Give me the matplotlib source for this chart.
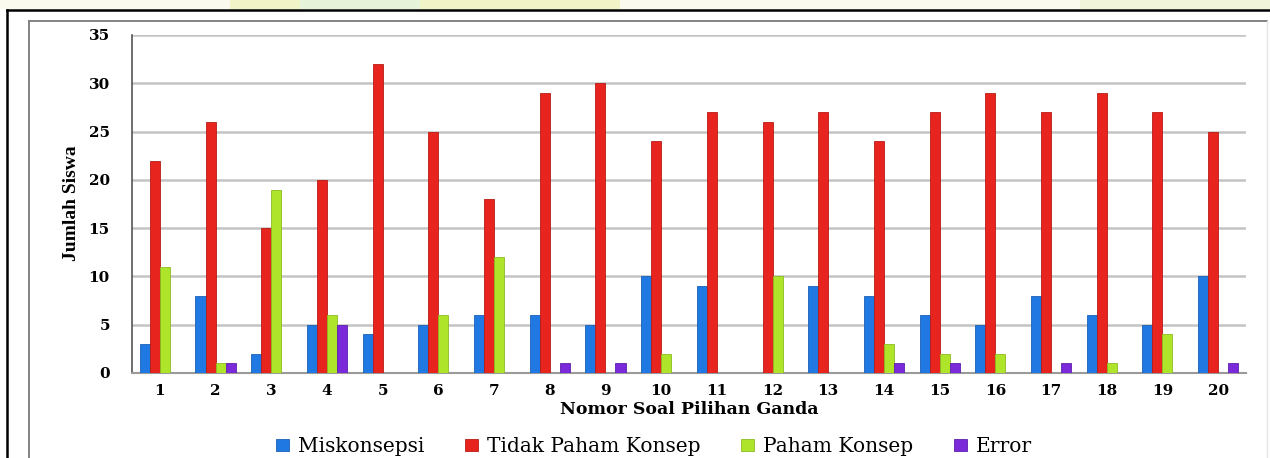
import matplotlib
matplotlib.use("Agg")
import matplotlib.pyplot as plt
from matplotlib.patches import Rectangle
from matplotlib.lines import Line2D
import numpy as np

categories = [str(i) for i in range(1, 21)]
miskonsepsi = [3, 8, 2, 5, 4, 5, 6, 6, 5, 10, 9, 0, 9, 8, 6, 5, 8, 6, 5, 10]
tidak_paham = [22, 26, 15, 20, 32, 25, 18, 29, 30, 24, 27, 26, 27, 24, 27, 29, 27, 29, 27, 25]
paham = [11, 1, 19, 6, 0, 6, 12, 0, 0, 2, 0, 10, 0, 3, 2, 2, 0, 1, 4, 0]
error = [0, 1, 0, 5, 0, 0, 0, 1, 1, 0, 0, 0, 0, 1, 1, 0, 1, 0, 0, 1]
series_names = ["Miskonsepsi", "Tidak Paham Konsep", "Paham Konsep", "Error"]
colors = ["#2079E3", "#E8241F", "#AEE52B", "#7A2AD9"]
edges = ["#1A5FB5", "#B81A16", "#8CBB20", "#5E1FAA"]
yticks = [0, 5, 10, 15, 20, 25, 30, 35]

W, H = 1270, 458
fig = plt.figure(figsize=(W / 100, H / 100), dpi=100)
fig.patch.set_facecolor("white")

# pale watermark strip at the very top
fig.add_artist(Rectangle((0, 1 - 9 / H), 1, 9 / H, transform=fig.transFigure,
                         facecolor="#FAFAEE", edgecolor="none", zorder=0))
for x0, x1, c in [(230, 620, "#F3F3C8"), (300, 420, "#E6F2DA"), (1080, 1270, "#F0F4D8")]:
    fig.add_artist(Rectangle((x0 / W, 1 - 9 / H), (x1 - x0) / W, 9 / H,
                             transform=fig.transFigure, facecolor=c,
                             edgecolor="none", zorder=0))

# outer black frame (top and left)
fig.add_artist(Line2D([7 / W, 1], [1 - 9.5 / H, 1 - 9.5 / H], color="black", lw=1.8,
                      transform=fig.transFigure))
fig.add_artist(Line2D([7 / W, 7 / W], [0, 1 - 9.5 / H], color="black", lw=1.8,
                      transform=fig.transFigure))
# inner gray frame
fig.add_artist(Line2D([29 / W, 1267 / W], [1 - 20.5 / H, 1 - 20.5 / H], color="#7A7A7A", lw=1.3,
                      transform=fig.transFigure))
fig.add_artist(Line2D([29 / W, 29 / W], [0, 1 - 20.5 / H], color="#7A7A7A", lw=1.3,
                      transform=fig.transFigure))
fig.add_artist(Line2D([1267 / W, 1267 / W], [0, 1 - 20.5 / H], color="#E4E4E4", lw=1.0,
                      transform=fig.transFigure))

left, right, top, bottom = 132, 1246, 35, 373
ax = fig.add_axes([left / W, 1 - bottom / H, (right - left) / W, (bottom - top) / H])

x = np.arange(1, 21)
bw = 0.18
series = [miskonsepsi, tidak_paham, paham, error]
handles = []
for i, (vals, name) in enumerate(zip(series, series_names)):
    offs = (i - 1.5) * bw
    b = ax.bar(x + offs, vals, width=bw, color=colors[i], edgecolor=edges[i],
               linewidth=0.6, label=name, zorder=3)
    handles.append(b)

ax.set_xlim(0.5, 20.5)
ax.set_ylim(0, 35)
ax.set_yticks(yticks)
ax.set_xticks(x)
ax.set_xticklabels(categories)
ax.yaxis.grid(True, color="#C4C4C4", linewidth=1.8, zorder=0)
ax.set_axisbelow(True)
for s in ["top", "right"]:
    ax.spines[s].set_visible(False)
ax.spines["left"].set_color("#555555")
ax.spines["left"].set_linewidth(1.2)
ax.spines["bottom"].set_color("#9A9A9A")
ax.spines["bottom"].set_linewidth(1.5)
ax.tick_params(axis="both", length=0)
ax.tick_params(axis="y", pad=16)
ax.tick_params(axis="x", pad=8)
for lab in ax.get_xticklabels() + ax.get_yticklabels():
    lab.set_fontfamily("DejaVu Serif")
    lab.set_fontweight("bold")
    lab.set_fontsize(11)

ax.set_xlabel("Nomor Soal Pilihan Ganda", fontfamily="DejaVu Serif", fontweight="bold",
              fontsize=12.5, labelpad=2)
fig.text(72 / W, 1 - 203 / H, "Jumlah Siswa", rotation=90, ha="center", va="center",
         fontfamily="Liberation Serif", fontweight="bold", fontsize=14, stretch="condensed")

leg = fig.legend(handles=handles, labels=series_names, loc="center", ncol=4,
                 bbox_to_anchor=(654 / W, 1 - 447 / H), frameon=False,
                 prop={"family": "DejaVu Serif", "size": 14.5},
                 handlelength=0.65, handleheight=0.55, handletextpad=0.45,
                 columnspacing=2.0, borderaxespad=0, borderpad=0)

fig.savefig("out.png", dpi=100)
